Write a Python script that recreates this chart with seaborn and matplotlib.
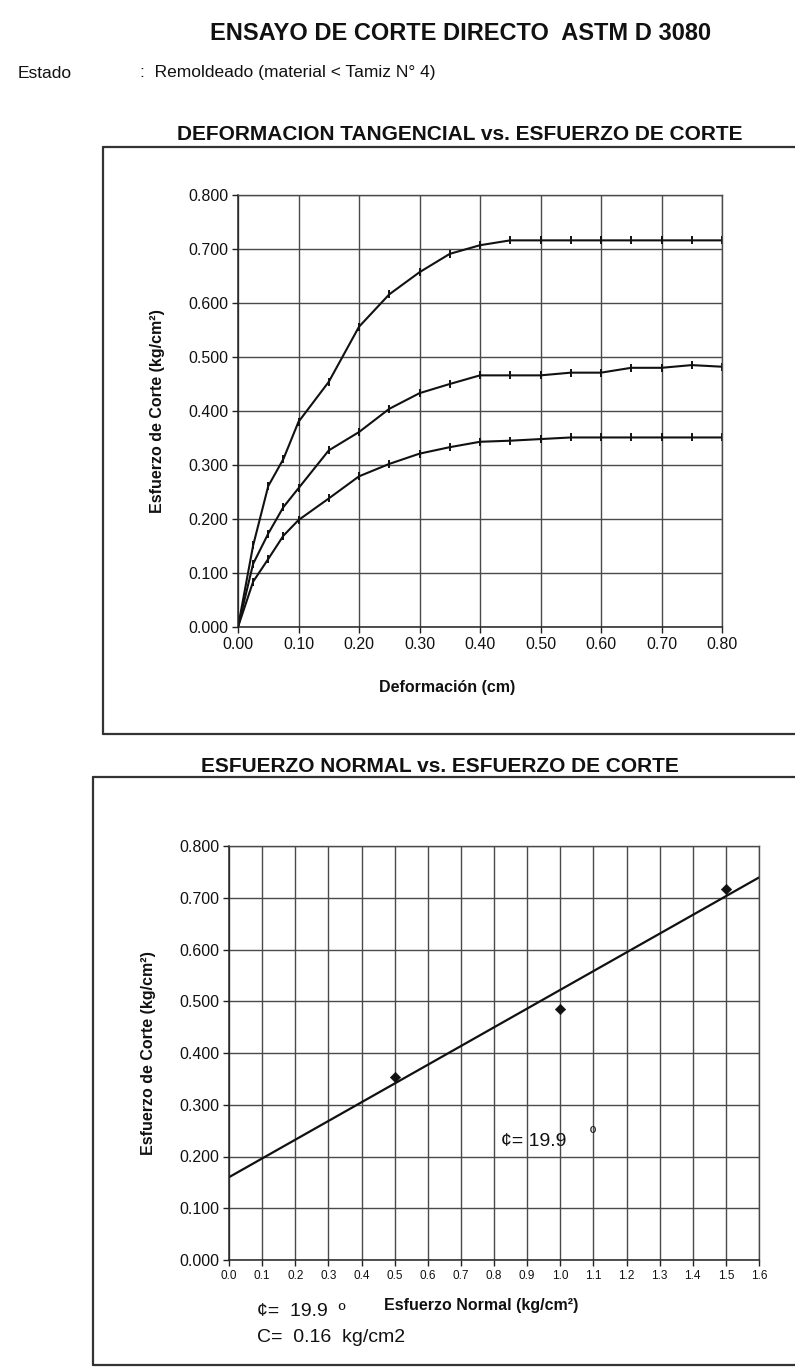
import numpy as np
import pandas as pd
import matplotlib
matplotlib.use("Agg")
import matplotlib.pyplot as plt
from matplotlib.lines import Line2D
import seaborn as sns

# ---------------- data ----------------
deformacion = [0.0, 0.025, 0.05, 0.075, 0.10, 0.15, 0.20, 0.25, 0.30, 0.35,
               0.40, 0.45, 0.50, 0.55, 0.60, 0.65, 0.70, 0.75, 0.80]
corte_alto = [0.0, 0.151, 0.261, 0.311, 0.380, 0.454, 0.556, 0.616, 0.657, 0.691,
              0.707, 0.716, 0.716, 0.716, 0.716, 0.716, 0.716, 0.716, 0.716]
corte_medio = [0.0, 0.117, 0.173, 0.222, 0.257, 0.327, 0.361, 0.404, 0.433, 0.450,
               0.466, 0.466, 0.466, 0.471, 0.471, 0.480, 0.480, 0.485, 0.482]
corte_bajo = [0.0, 0.084, 0.126, 0.169, 0.198, 0.238, 0.279, 0.302, 0.321, 0.333,
              0.343, 0.345, 0.348, 0.351, 0.351, 0.351, 0.351, 0.351, 0.351]

esfuerzo_normal = [0.5, 1.0, 1.5]
esfuerzo_corte_max = [0.353, 0.485, 0.716]
phi_grados = 19.9
cohesion = 0.16

y_ticks = [0.0, 0.1, 0.2, 0.3, 0.4, 0.5, 0.6, 0.7, 0.8]
x_ticks_top = [0.0, 0.1, 0.2, 0.3, 0.4, 0.5, 0.6, 0.7, 0.8]
x_ticks_bot = [round(0.1 * i, 1) for i in range(17)]

# ---------------- style ----------------
sns.set_theme(style="white")
FAM = ["Liberation Sans", "DejaVu Sans"]
plt.rcParams["font.family"] = FAM
plt.rcParams["axes.unicode_minus"] = False

W, H = 795, 1367
fig = plt.figure(figsize=(W / 100, H / 100), dpi=100)
fig.patch.set_facecolor("white")


def fx(px):
    return px / W


def fy(py):
    return 1 - py / H


# ---------------- header ----------------
fig.text(fx(461), fy(33), "ENSAYO DE CORTE DIRECTO  ASTM D 3080", ha="center",
         va="center", fontsize=17, fontweight="bold", color="#111")
fig.text(fx(18), fy(73), "Estado", ha="left", va="center", fontsize=12.5, color="#111")
fig.text(fx(140), fy(73), ":  Remoldeado (material < Tamiz N° 4)", ha="left",
         va="center", fontsize=12.5, color="#111")
fig.text(fx(460), fy(134), "DEFORMACION TANGENCIAL vs. ESFUERZO DE CORTE",
         ha="center", va="center", fontsize=15, fontweight="bold", color="#111")
fig.text(fx(440), fy(766), "ESFUERZO NORMAL vs. ESFUERZO DE CORTE",
         ha="center", va="center", fontsize=15, fontweight="bold", color="#111")

# frames
fcol = "#333333"
for (x0, y0, x1, y1) in [(103, 147, 795, 147), (103, 147, 103, 734), (103, 734, 795, 734),
                         (93, 777, 795, 777), (93, 777, 93, 1365), (93, 1365, 795, 1365)]:
    fig.add_artist(Line2D([fx(x0), fx(x1)], [fy(y0), fy(y1)], color=fcol, lw=1.6,
                          transform=fig.transFigure))

grid_col = "#4a4a4a"


def style_axes(ax):
    ax.patch.set_alpha(0)
    ax.grid(True, color=grid_col, lw=1.0)
    for s in ax.spines.values():
        s.set_visible(True)
        s.set_color("#222")
        s.set_linewidth(1.1)
    ax.spines["top"].set_color(grid_col)
    ax.spines["right"].set_color(grid_col)
    ax.spines["top"].set_linewidth(1.0)
    ax.spines["right"].set_linewidth(1.0)
    ax.tick_params(axis="both", direction="out", length=4, width=1, color="#222",
                   bottom=True, left=True, pad=3)


# ---------------- top chart ----------------
ax1 = fig.add_axes([fx(238), fy(627), fx(722 - 238), (627 - 195) / H])
df = pd.DataFrame({
    "Deformación": deformacion * 3,
    "Corte": corte_alto + corte_medio + corte_bajo,
    "Serie": ["alto"] * len(deformacion) + ["medio"] * len(deformacion) + ["bajo"] * len(deformacion),
})
sns.lineplot(data=df, x="Deformación", y="Corte", hue="Serie",
             palette=["#111", "#111", "#111"], lw=1.5, marker="|", markersize=6,
             markeredgewidth=1.4, markeredgecolor="#111", legend=False, ax=ax1, sort=False)
ax1.set_xlim(0, 0.8)
ax1.set_ylim(0, 0.8)
ax1.set_xticks(x_ticks_top)
ax1.set_yticks(y_ticks)
ax1.set_xticklabels([f"{v:.2f}" for v in x_ticks_top], fontsize=11.5, color="#111")
ax1.set_yticklabels([f"{v:.3f}" for v in y_ticks], fontsize=11.5, color="#111")
style_axes(ax1)
ax1.set_xlabel("Deformación (cm)", fontsize=11.5, fontweight="bold", color="#111")
ax1.set_ylabel("Esfuerzo de Corte (kg/cm²)", fontsize=11.5, fontweight="bold", color="#111")
ax1.xaxis.set_label_coords((447 - 238) / 484, (627 - 680) / 432)
ax1.yaxis.set_label_coords((165 - 238) / 484, 0.5)

# ---------------- bottom chart ----------------
ax2 = fig.add_axes([fx(229), fy(1260), fx(759 - 229), (1260 - 846) / H])
sns.scatterplot(x=esfuerzo_normal, y=esfuerzo_corte_max, marker="D", s=28,
                color="#111", edgecolor="#111", ax=ax2, zorder=5)
xl = np.array([0.0, 1.6])
yl = cohesion + np.tan(np.radians(phi_grados)) * xl
sns.lineplot(x=xl, y=yl, color="#111", lw=1.6, ax=ax2)
ax2.set_xlim(0, 1.6)
ax2.set_ylim(0, 0.8)
ax2.set_xticks(x_ticks_bot)
ax2.set_yticks(y_ticks)
ax2.set_xticklabels([f"{v:.1f}" for v in x_ticks_bot], fontsize=8.5, color="#111")
ax2.set_yticklabels([f"{v:.3f}" for v in y_ticks], fontsize=11.5, color="#111")
style_axes(ax2)
ax2.set_xlabel("Esfuerzo Normal (kg/cm²)", fontsize=11.5, fontweight="bold", color="#111")
ax2.set_ylabel("Esfuerzo de Corte (kg/cm²)", fontsize=11.5, fontweight="bold", color="#111")
ax2.xaxis.set_label_coords((481 - 229) / 530, (1260 - 1298) / 414)
ax2.yaxis.set_label_coords((156 - 229) / 530, 0.5)

ax2.text(0.82, 0.229, f"¢= {phi_grados}", fontsize=14, color="#111", va="center", ha="left")
ax2.text(1.09, 0.243, "º", fontsize=12, color="#111", va="center", ha="left")

fig.text(fx(257), fy(1312), f"¢=  {phi_grados}  º", fontsize=14, color="#111",
         ha="left", va="center")
fig.text(fx(257), fy(1337), f"C=  {cohesion:.2f}  kg/cm2", fontsize=14, color="#111",
         ha="left", va="center")

fig.savefig("out.png", dpi=100, facecolor="white")
